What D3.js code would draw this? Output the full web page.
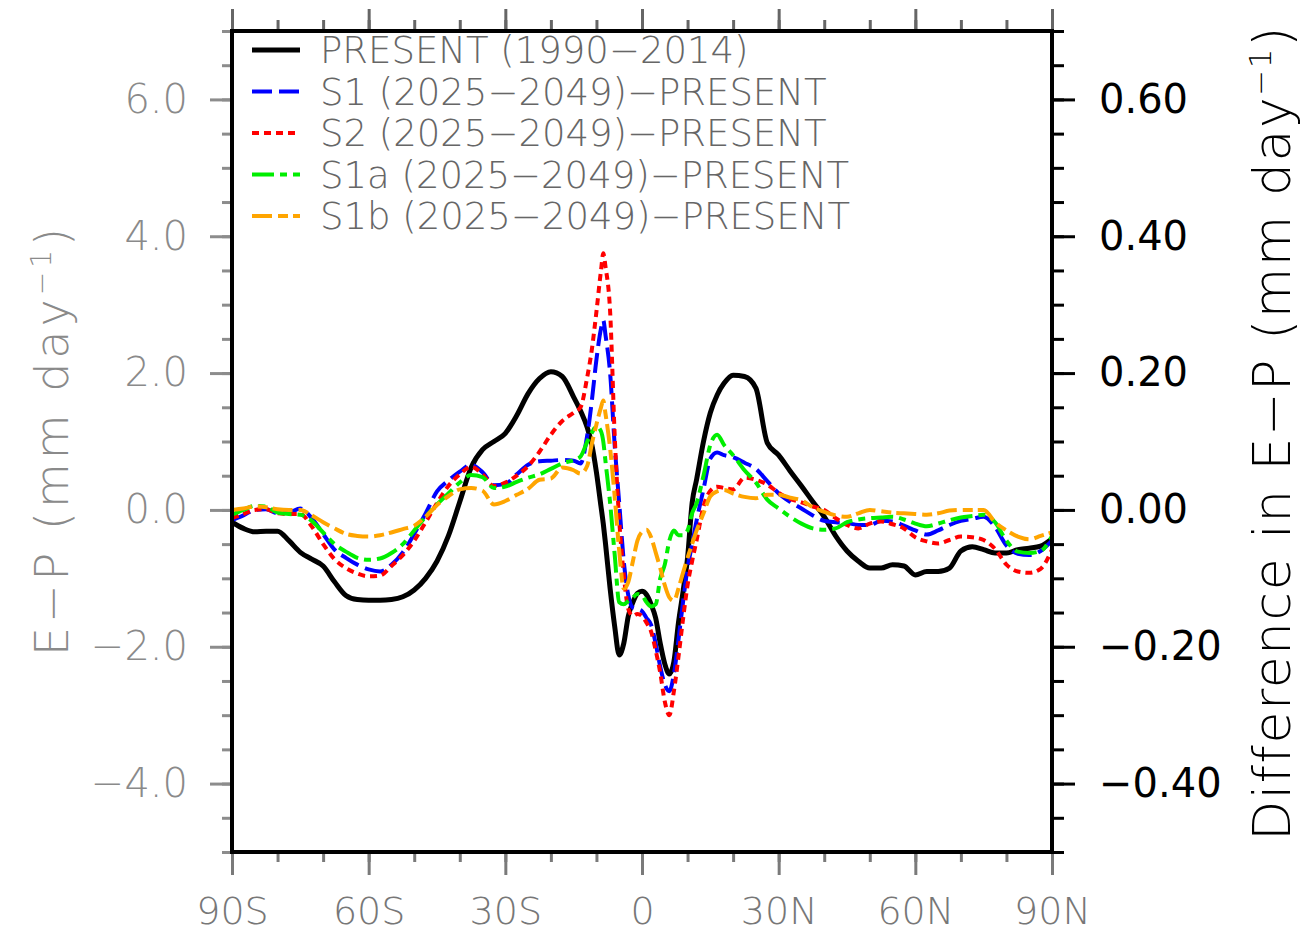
<!DOCTYPE html>
<html>
<head>
<meta charset="utf-8">
<script src="https://cdn.jsdelivr.net/npm/d3@7"></script>
<style>
  body { margin: 0; background: #fff; }
  svg { display: block; font-family: "DejaVu Sans", sans-serif; font-weight: 200; }
</style>
</head>
<body>
<div id="chart"></div>
<script>
// latitude grid (deg, south negative)
const lats = [-90, -87.5, -85, -82.5, -80, -77.5, -75, -72.5, -70, -67.5, -65, -62.5, -60, -57.5, -55, -52.5,
  -50, -47.5, -45, -42.5, -40, -37.5, -35, -32.5, -30, -27.5, -25, -22.5, -20, -17.5, -15, -13.5, -12, -11,
  -10, -9, -8.5, -8, -7, -6, -5, -4, -3, -2, -1, 0, 1, 2, 3, 4, 5, 6, 7, 8, 9, 10, 11, 12, 13.5, 15, 16.5,
  18, 20, 22.5, 25, 27.5, 30, 32.5, 35, 37.5, 40, 42.5, 45, 47.5, 50, 52.5, 55, 57.5, 60, 62.5, 65, 67.5,
  70, 72.5, 75, 77.5, 80, 82.5, 85, 87.5, 90];

// E-P, mm/day (left axis)
const present = [-0.18, -0.27, -0.32, -0.31, -0.31, -0.45, -0.62, -0.72, -0.82, -1.05, -1.25, -1.31, -1.32, -1.32, -1.31, -1.27,
  -1.17, -1.00, -0.75, -0.38, 0.12, 0.62, 0.88, 1.00, 1.12, 1.38, 1.70, 1.92, 2.02, 1.95, 1.65, 1.45, 1.20, 0.95,
  0.55, 0.05, -0.20, -0.50, -1.15, -1.70, -2.12, -1.95, -1.55, -1.35, -1.22, -1.19, -1.24, -1.38, -1.58, -1.95, -2.25, -2.40, -2.22, -1.65, -1.20, -0.70, 0.10, 0.45, 1.00, 1.42, 1.68,
  1.85, 1.97, 1.95, 1.78, 0.98, 0.80, 0.57, 0.35, 0.12, -0.10, -0.38, -0.60, -0.75, -0.85, -0.85, -0.80, -0.82, -0.95, -0.90, -0.90, -0.85,
  -0.60, -0.54, -0.58, -0.63, -0.63, -0.58, -0.56, -0.53, -0.42];

// differences from PRESENT, mm/day (right axis)
const s1 = [-0.015, -0.008, 0.0, 0.001, -0.005, -0.004, 0.002, -0.012, -0.035, -0.058, -0.070, -0.080, -0.087, -0.090, -0.080, -0.062,
  -0.035, -0.005, 0.027, 0.043, 0.056, 0.066, 0.055, 0.036, 0.038, 0.052, 0.066, 0.071, 0.072, 0.073, 0.072, 0.068, 0.110, 0.160,
  0.220, 0.265, 0.277, 0.255, 0.200, 0.095, 0.010, -0.075, -0.125, -0.143, -0.145, -0.148, -0.158, -0.168, -0.195, -0.229, -0.255, -0.265, -0.240, -0.190, -0.135, -0.085, -0.050, -0.015, 0.030, 0.075, 0.084,
  0.080, 0.077, 0.069, 0.060, 0.042, 0.024, 0.012, 0.002, -0.008, -0.016, -0.018, -0.019, -0.022, -0.022, -0.016, -0.017, -0.023, -0.030, -0.036, -0.030, -0.022,
  -0.016, -0.013, -0.010, -0.025, -0.052, -0.064, -0.066, -0.060, -0.045];

const s2 = [-0.012, -0.006, 0.0, 0.001, -0.005, -0.006, -0.006, -0.024, -0.050, -0.072, -0.085, -0.093, -0.097, -0.096, -0.082, -0.066,
  -0.045, -0.018, 0.010, 0.035, 0.052, 0.063, 0.052, 0.035, 0.040, 0.050, 0.064, 0.085, 0.110, 0.130, 0.142, 0.150, 0.195, 0.235,
  0.290, 0.350, 0.375, 0.355, 0.290, 0.110, -0.015, -0.095, -0.145, -0.155, -0.152, -0.155, -0.165, -0.178, -0.205, -0.238, -0.280, -0.300, -0.265, -0.215, -0.160, -0.110, -0.075, -0.044, 0.005, 0.028, 0.034,
  0.032, 0.030, 0.047, 0.044, 0.037, 0.025, 0.016, 0.011, 0.005, 0.0, -0.012, -0.022, -0.027, -0.020, -0.017, -0.021, -0.027, -0.040, -0.046, -0.049, -0.044,
  -0.039, -0.040, -0.044, -0.057, -0.080, -0.090, -0.092, -0.086, -0.058];

const s1a = [-0.007, 0.0, 0.006, 0.005, -0.004, -0.006, -0.007, -0.016, -0.033, -0.050, -0.061, -0.070, -0.073, -0.071, -0.063, -0.050,
  -0.030, -0.010, 0.008, 0.024, 0.040, 0.051, 0.048, 0.032, 0.034, 0.041, 0.047, 0.052, 0.060, 0.068, 0.073, 0.078, 0.100, 0.113,
  0.122, 0.115, 0.100, 0.070, 0.010, -0.065, -0.135, -0.138, -0.133, -0.128, -0.123, -0.125, -0.135, -0.141, -0.138, -0.100, -0.080, -0.045, -0.030, -0.037, -0.037, -0.030, -0.005, 0.010, 0.050, 0.095, 0.110,
  0.095, 0.080, 0.058, 0.040, 0.015, 0.002, -0.010, -0.020, -0.027, -0.029, -0.027, -0.018, -0.014, -0.012, -0.011, -0.010, -0.014, -0.020, -0.024, -0.020, -0.015,
  -0.011, -0.009, -0.007, -0.018, -0.045, -0.061, -0.063, -0.060, -0.038];

const s1b = [0.0, 0.002, 0.005, 0.004, 0.001, 0.0, 0.0, -0.008, -0.018, -0.027, -0.035, -0.038, -0.039, -0.037, -0.033, -0.028,
  -0.023, -0.010, 0.007, 0.020, 0.030, 0.032, 0.028, 0.008, 0.013, 0.022, 0.031, 0.044, 0.046, 0.062, 0.058, 0.053, 0.065, 0.097,
  0.125, 0.150, 0.160, 0.140, 0.090, 0.020, -0.060, -0.115, -0.105, -0.075, -0.045, -0.032, -0.029, -0.040, -0.062, -0.085, -0.110, -0.128, -0.133, -0.115, -0.092, -0.070, -0.050, -0.030, -0.005, 0.020, 0.027,
  0.029, 0.024, 0.019, 0.017, 0.022, 0.022, 0.018, 0.014, 0.004, -0.003, -0.008, -0.010, -0.005, 0.0, -0.002, -0.004, -0.005, -0.006, -0.007, -0.005, -0.001,
  0.0, 0.0, 0.0, -0.018, -0.030, -0.039, -0.043, -0.038, -0.033];

const seriesNames = ['PRESENT (1990\u22122014)', 'S1 (2025\u22122049)\u2212PRESENT', 'S2 (2025\u22122049)\u2212PRESENT',
  'S1a (2025\u22122049)\u2212PRESENT', 'S1b (2025\u22122049)\u2212PRESENT'];

const xTicks = [-90, -60, -30, 0, 30, 60, 90];
const xTickLabels = ['90S', '60S', '30S', '0', '30N', '60N', '90N'];
const leftTicks = [-4, -2, 0, 2, 4, 6];
const leftTickLabels = ['\u22124.0', '\u22122.0', '0.0', '2.0', '4.0', '6.0'];
const rightTicks = [-0.4, -0.2, 0, 0.2, 0.4, 0.6];
const rightTickLabels = ['\u22120.40', '\u22120.20', '0.00', '0.20', '0.40', '0.60'];

const width = 1301;
const height = 933;
const plotLeft = 232, plotRight = 1052, plotTop = 31, plotBottom = 852;

const svg = d3.select('#chart').append('svg')
  .attr('width', width)
  .attr('height', height)
  .style('background', 'white');

const x = d3.scaleLinear().domain([-90, 90]).range([plotLeft, plotRight]);
const yL = d3.scaleLinear().domain([-5, 7]).range([plotBottom, plotTop]);
const yR = d3.scaleLinear().domain([-0.5, 0.7]).range([plotBottom, plotTop]);

function styleAxis(g, color, fontSize, textColor) {
  g.select('.domain').remove();
  g.selectAll('line').attr('stroke', color).attr('stroke-width', 3);
  g.selectAll('text').attr('font-size', fontSize).attr('fill', textColor)
    .attr('font-family', '"DejaVu Sans", sans-serif');
}

// minor ticks
svg.append('g').attr('transform', `translate(${plotLeft},0)`)
  .call(d3.axisLeft(yL).tickValues(d3.range(-5, 7.01, 0.5)).tickSize(10).tickFormat(''))
  .call(g => styleAxis(g, '#8c8c8c', 40, '#888'));
svg.append('g').attr('transform', `translate(${plotRight},0)`)
  .call(d3.axisRight(yR).tickValues(d3.range(-0.5, 0.701, 0.05)).tickSize(12).tickFormat(''))
  .call(g => styleAxis(g, '#000', 40, '#000'));
svg.append('g').attr('transform', `translate(0,${plotBottom})`)
  .call(d3.axisBottom(x).tickValues(d3.range(-90, 91, 10)).tickSize(10).tickFormat(''))
  .call(g => styleAxis(g, '#7a7a7a', 40, '#777'));
svg.append('g').attr('transform', `translate(0,${plotTop})`)
  .call(d3.axisTop(x).tickValues(d3.range(-90, 91, 10)).tickSize(11).tickFormat(''))
  .call(g => styleAxis(g, '#666', 40, '#666'));

// major ticks + labels
svg.append('g').attr('transform', `translate(${plotLeft},0)`)
  .call(d3.axisLeft(yL).tickValues(leftTicks).tickSize(22).tickPadding(22)
    .tickFormat((d, i) => leftTickLabels[i]))
  .call(g => styleAxis(g, '#8c8c8c', 40, '#8a8a8a'));
svg.append('g').attr('transform', `translate(${plotRight},0)`)
  .call(d3.axisRight(yR).tickValues(rightTicks).tickSize(23).tickPadding(24)
    .tickFormat((d, i) => rightTickLabels[i]))
  .call(g => styleAxis(g, '#000', 40, '#000'))
  .call(g => g.selectAll('text').attr('font-weight', 400));
svg.append('g').attr('transform', `translate(0,${plotBottom})`)
  .call(d3.axisBottom(x).tickValues(xTicks).tickSize(23).tickPadding(22)
    .tickFormat((d, i) => xTickLabels[i]))
  .call(g => styleAxis(g, '#7a7a7a', 38, '#777'));
svg.append('g').attr('transform', `translate(0,${plotTop})`)
  .call(d3.axisTop(x).tickValues(xTicks).tickSize(22).tickFormat(''))
  .call(g => styleAxis(g, '#666', 40, '#666'));

// curves
svg.append('clipPath').attr('id', 'plotclip')
  .append('rect').attr('x', plotLeft).attr('y', plotTop)
  .attr('width', plotRight - plotLeft).attr('height', plotBottom - plotTop);

const series = [
  { values: present, scale: yL, color: '#000000', width: 5, dash: null },
  { values: s1, scale: yR, color: '#0000ff', width: 4, dash: '20,7' },
  { values: s2, scale: yR, color: '#ff0000', width: 4, dash: '7,5' },
  { values: s1a, scale: yR, color: '#00ee00', width: 4, dash: '22,6,7,6' },
  { values: s1b, scale: yR, color: '#ffa500', width: 4, dash: '20,6,10,5' }
];

const plot = svg.append('g').attr('clip-path', 'url(#plotclip)');
series.forEach(s => {
  const line = d3.line()
    .x((d, i) => x(lats[i]))
    .y(d => s.scale(d))
    .curve(d3.curveMonotoneX);
  plot.append('path')
    .datum(s.values)
    .attr('d', line)
    .attr('fill', 'none')
    .attr('stroke', s.color)
    .attr('stroke-width', s.width)
    .attr('stroke-dasharray', s.dash)
    .attr('stroke-linejoin', 'round');
});

// frame
svg.append('rect')
  .attr('x', plotLeft).attr('y', plotTop)
  .attr('width', plotRight - plotLeft).attr('height', plotBottom - plotTop)
  .attr('fill', 'none').attr('stroke', '#000').attr('stroke-width', 4);

// legend
const legend = svg.append('g').attr('transform', 'translate(252, 50)')
  .selectAll('.legends')
  .data(series)
  .enter()
  .append('g')
  .attr('transform', (d, i) => 'translate(0,' + i * 41.5 + ')');

legend.append('line')
  .attr('x1', 0).attr('x2', 48)
  .attr('stroke', d => d.color)
  .attr('stroke-width', d => d.width)
  .attr('stroke-dasharray', d => d.dash);

legend.append('text')
  .attr('x', 68)
  .attr('dy', '0.36em')
  .attr('font-size', 37)
  .attr('fill', '#666')
  .text((d, i) => seriesNames[i]);

// axis titles
const lt = svg.append('text')
  .attr('transform', 'translate(68,440) rotate(-90)')
  .attr('text-anchor', 'middle')
  .attr('font-size', 46)
  .attr('letter-spacing', 4)
  .attr('fill', '#8a8a8a');
lt.append('tspan').text('E\u2212P (mm day');
lt.append('tspan').attr('font-size', 28).attr('dy', -17).text('\u22121');
lt.append('tspan').attr('dy', 17).text(')');

const rt = svg.append('text')
  .attr('transform', 'translate(1290,433) rotate(-90)')
  .attr('text-anchor', 'middle')
  .attr('font-size', 52)
  .attr('letter-spacing', 1.5)
  .attr('fill', '#000');
rt.append('tspan').text('Difference in E\u2212P (mm day');
rt.append('tspan').attr('font-size', 31).attr('dy', -19).text('\u22121');
rt.append('tspan').attr('dy', 19).text(')');
</script>
</body>
</html>
